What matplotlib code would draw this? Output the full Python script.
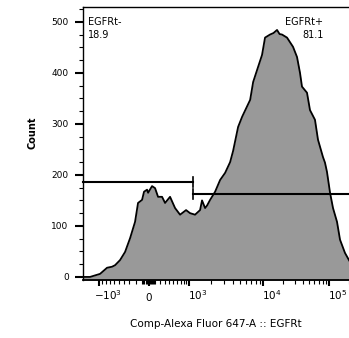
import numpy as np
import matplotlib
matplotlib.use("Agg")
import matplotlib.pyplot as plt
from matplotlib.transforms import ScaledTranslation

# histogram trace (fluorescence value, count)
fl_values = [-1648, -1330, -1138, -969, -767, -643, -574, -470, -375, -288,
             -208, -162, -102, -73, -29, -14, 54, 109, 165, 243,
             305, 416, 541, 684, 885, 1034, 1221, 1437, 1530, 1686,
             1796, 1974, 2308, 2695, 3145, 3665, 4017, 4681, 5295, 6756,
             7400, 8620, 9695, 10720, 11700, 12760, 14400, 16300, 17800, 19400,
             23100, 28470, 32730, 36320, 38920, 46370, 51460, 61240, 68020, 80950,
             86820, 93050, 103600, 114900, 132100, 146700, 174500, 200700, 240000]
counts = [0, 0, 3, 6, 18, 20, 23, 33, 49, 76,
          108, 145, 151, 167, 171, 165, 178, 174, 157, 157,
          145, 157, 135, 122, 131, 125, 122, 131, 150, 135,
          140, 151, 167, 190, 204, 225, 247, 294, 314, 347,
          382, 412, 435, 469, 472, 475, 478, 484, 476, 475,
          469, 451, 431, 400, 373, 361, 327, 308, 269, 235,
          224, 206, 165, 135, 108, 73, 47, 33, 15]

gate_split = 1140
gate_neg = ("EGFRt-", "18.9", 186)
gate_pos = ("EGFRt+", "81.1", 163)

major_x = [-1000, 0, 1000, 10000, 100000]
major_x_labels = [r"$-10^3$", "0", r"$10^3$", r"$10^4$", r"$10^5$"]

# biexponential-like display: arcsinh, stretched piecewise between decades
U_ANCH = np.arcsinh(np.array(major_x, float) / 500)
P_ANCH = np.array([-50, 0, 40, 114, 180], float)


def _lin(v, xs, ys):
    v = np.asarray(v, float)
    lo = ys[0] + (v - xs[0]) * (ys[1] - ys[0]) / (xs[1] - xs[0])
    hi = ys[-1] + (v - xs[-1]) * (ys[-1] - ys[-2]) / (xs[-1] - xs[-2])
    return np.where(v < xs[0], lo, np.where(v > xs[-1], hi, np.interp(v, xs, ys)))


def fwd(x):
    return _lin(np.arcsinh(np.asarray(x, float) / 500), U_ANCH, P_ANCH)


def inv(p):
    return 500 * np.sinh(_lin(p, P_ANCH, U_ANCH))


fig = plt.figure(figsize=(3.49, 3.38), dpi=100)
ax = fig.add_axes([83 / 349, 1 - 280 / 338, 266 / 349, 273 / 338])
ax.set_xscale("function", functions=(fwd, inv))

x = np.array(fl_values, float)
y = np.array(counts, float)
ax.fill_between(x, y, -10, color="#999999", lw=0)
ax.plot(x, y, color="black", lw=1.3)

# gates
xmin, xmax = -1648, 200700
ax.plot([xmin, gate_split], [gate_neg[2]] * 2, color="black", lw=1.5, clip_on=False)
ax.plot([gate_split] * 2, [gate_neg[2] - 10, gate_neg[2] + 10], color="black", lw=1.2)
ax.plot([gate_split, xmax * 1.2], [gate_pos[2]] * 2, color="black", lw=1.5)
ax.plot([gate_split] * 2, [gate_pos[2] - 10, gate_pos[2] + 10], color="black", lw=1.2)

ax.text(0.019, 0.962, gate_neg[0] + "\n" + gate_neg[1], transform=ax.transAxes,
        ha="left", va="top", fontsize=7, linespacing=1.3)
ax.text(0.904, 0.962, gate_pos[0] + "\n" + gate_pos[1], transform=ax.transAxes,
        ha="right", va="top", fontsize=7, linespacing=1.3, multialignment="right")

ax.set_xlim(xmin, xmax)
ax.set_ylim(-6, 529)

minor_x = ([-v for v in range(100, 1000, 100)] + [-v for v in range(10, 100, 20)]
           + list(range(10, 100, 20)) + list(range(100, 1000, 100))
           + list(range(2000, 10000, 1000)) + list(range(20000, 100000, 10000)) + [200000])
ax.set_xticks(major_x)
ax.set_xticklabels(major_x_labels)
ax.set_xticks(minor_x, minor=True)
ax.set_yticks(range(0, 501, 100))
ax.set_yticks(range(0, 530, 25), minor=True)

ax.tick_params(axis="y", which="major", length=5.8, width=1.5, labelsize=6.5, pad=4.5)
ax.tick_params(axis="y", which="minor", length=3, width=0.8)
ax.tick_params(axis="x", which="major", length=4.3, width=1.5, labelsize=7.5, pad=1.5)
ax.tick_params(axis="x", which="minor", length=2.6, width=0.8)

# (dx, dy) in pixels for each x tick label
shifts = [(-5, 0), (0, -5), (-1, 0), (-1, 0), (-1, 0)]
for lab, (dx, dy) in zip(ax.get_xticklabels(), shifts):
    if dx != 0:
        lab.set_horizontalalignment("left")
    lab.set_transform(lab.get_transform() + ScaledTranslation(dx / 100, dy / 100, fig.dpi_scale_trans))

ax.spines["right"].set_visible(False)
for s in ("left", "top"):
    ax.spines[s].set_linewidth(1.0)
ax.spines["bottom"].set_linewidth(1.3)

fig.text(33 / 349, 1 - 133 / 338, "Count", rotation=90, ha="center", va="center",
         fontsize=7, fontweight="heavy")
fig.text(216 / 349, 1 - 319 / 338, "Comp-Alexa Fluor 647-A :: EGFRt",
         ha="center", va="top", fontsize=7.5)

fig.savefig("out.png", dpi=100)
